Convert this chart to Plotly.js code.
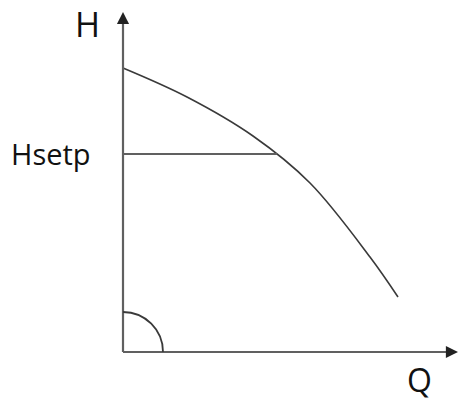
<!DOCTYPE html>
<html>
<head>
<meta charset="utf-8">
<script src="https://cdn.plot.ly/plotly-3.0.1.min.js"></script>
<style>html,body{margin:0;padding:0;background:#fff}#chart{width:458px;height:403px}</style>
</head>
<body>
<div id="chart"></div>
<script>
// Pump curve (flow Q vs head H), arbitrary units
const flowQ = [0, 64, 130, 187, 247, 275];
const headH = [284, 255, 216, 169, 95, 55];
const hSetpoint = 198;
const qAtSetpoint = 154;
const axisMaxQ = 335;
const axisMaxH = 340;
const arcRadius = 40;
const labelH = "H";
const labelQ = "Q";
const labelSetp = "Hsetp";

const axisColor = "#606060";
const curveColor = "#3a3a3a";
const font = "Open Sans, Liberation Sans, sans-serif";

const traces = [
  {x: flowQ, y: headH, mode: "lines", type: "scatter",
   line: {color: curveColor, width: 1.6, shape: "spline", smoothing: 1}, hoverinfo: "skip"},
  {x: [0, qAtSetpoint], y: [hSetpoint, hSetpoint], mode: "lines", type: "scatter",
   line: {color: axisColor, width: 2.2}, hoverinfo: "skip"}
];

const k = 0.5523 * arcRadius;
const layout = {
  width: 458, height: 403,
  margin: {l: 0, r: 0, t: 0, b: 0},
  paper_bgcolor: "#fff", plot_bgcolor: "#fff",
  showlegend: false,
  xaxis: {range: [-123, 335], visible: false, fixedrange: true},
  yaxis: {range: [-51, 352], visible: false, fixedrange: true},
  shapes: [
    {type: "line", xref: "x", yref: "y", x0: 0, y0: 0, x1: 0, y1: axisMaxH - 6, line: {color: axisColor, width: 2.2}},
    {type: "line", xref: "x", yref: "y", x0: 0, y0: 0, x1: axisMaxQ - 6, y1: 0, line: {color: axisColor, width: 2.2}},
    {type: "path", xref: "x", yref: "y",
     path: `M ${arcRadius} 0 C ${arcRadius} ${k} ${k} ${arcRadius} 0 ${arcRadius}`,
     line: {color: curveColor, width: 1.8}}
  ],
  annotations: [
    {x: 0, y: axisMaxH, ax: 0, ay: axisMaxH - 12, xref: "x", yref: "y", axref: "x", ayref: "y",
     showarrow: true, arrowhead: 2, arrowsize: 1.1, arrowwidth: 2.2, arrowcolor: "#222", text: ""},
    {x: axisMaxQ, y: 0, ax: axisMaxQ - 12, ay: 0, xref: "x", yref: "y", axref: "x", ayref: "y",
     showarrow: true, arrowhead: 2, arrowsize: 1.1, arrowwidth: 2.2, arrowcolor: "#222", text: ""},
    {x: -36, y: 328, xref: "x", yref: "y", text: labelH, showarrow: false,
     xanchor: "center", yanchor: "middle", font: {family: font, size: 34, color: "#111"}},
    {x: -72, y: 199, xref: "x", yref: "y", text: labelSetp, showarrow: false,
     xanchor: "center", yanchor: "middle", font: {family: font, size: 29, color: "#111"}},
    {x: 296, y: -27, xref: "x", yref: "y", text: labelQ, showarrow: false,
     xanchor: "center", yanchor: "middle", font: {family: font, size: 32, color: "#111"}}
  ]
};

Plotly.newPlot("chart", traces, layout, {staticPlot: true, displayModeBar: false});
</script>
</body>
</html>
